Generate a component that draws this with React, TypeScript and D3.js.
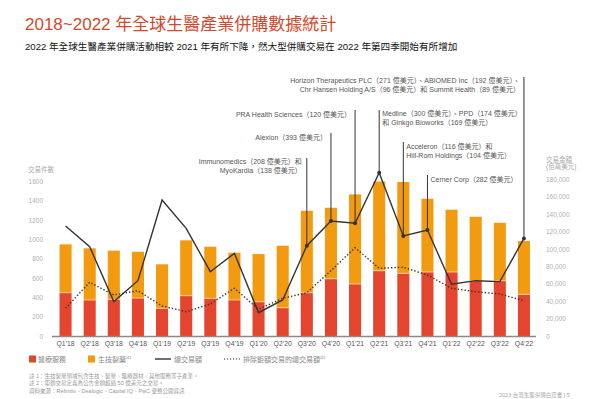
import React from 'react';
import * as d3 from 'd3';

const quarters = [
  "Q1’18", "Q2’18", "Q3’18", "Q4’18", "Q1’19", "Q2’19", "Q3’19", "Q4’19", "Q1’20", "Q2’20",
  "Q3’20", "Q4’20", "Q1’21", "Q2’21", "Q3’21", "Q4’21", "Q1’22", "Q2’22", "Q3’22", "Q4’22",
];
// deal counts (left axis)
const healthcare = [452, 377, 384, 397, 291, 421, 394, 377, 359, 297, 452, 596, 542, 679, 652, 666, 666, 576, 576, 435];
const pharma = [499, 533, 502, 478, 454, 572, 533, 488, 492, 640, 846, 733, 925, 921, 943, 756, 643, 660, 598, 550];
// deal value, USD mn (right axis)
const totalValue = [126700, 103000, 40000, 64000, 156500, 124000, 74300, 95400, 27300, 41900,
  104100, 132500, 129800, 187800, 115300, 122100, 59900, 64000, 62900, 112400];
const exMegaValue = [32300, 62200, 47600, 52500, 35000, 28400, 37300, 55300, 31200, 43800,
  50200, 75500, 101800, 78200, 79400, 70500, 55300, 51400, 48700, 41000];

const leftTicks = [0, 200, 400, 600, 800, 1000, 1200, 1400, 1600];
const rightTicks = [0, 20000, 40000, 60000, 80000, 100000, 120000, 140000, 160000, 180000];

const annotationText = [
  { q: "Q3’20", lines: ["Immunomedics（208 億美元）和", "MyoKardia（138 億美元）"] },
  { q: "Q4’20", lines: ["Alexion（393 億美元）"] },
  { q: "Q1’21", lines: ["PRA Health Sciences（120 億美元）"] },
  { q: "Q2’21", lines: ["Medline（300 億美元）、PPD（174 億美元）", "和 Ginkgo Bioworks（169 億美元）"] },
  { q: "Q3’21", lines: ["Acceleron（116 億美元）和", "Hill-Rom Holdings（104 億美元）"] },
  { q: "Q4’21", lines: ["Cerner Corp（282 億美元）"] },
  { q: "Q4’22", lines: ["Horizon Therapeutics PLC（271 億美元）、ABIOMED Inc（192 億美元）、", "Chr Hansen Holding A/S（96 億美元）和 Summit Health（89 億美元）"] },
];

// label placement for each annotation above (same order)
const annotationLayout = [
  { anchor: "end", dx: -5, top: 158, base: 164 },
  { anchor: "end", dx: -4, top: 133, base: 140 },
  { anchor: "end", dx: -4, top: 110, base: 116.5 },
  { anchor: "start", dx: 3, top: 110, base: 116 },
  { anchor: "start", dx: 3, top: 142, base: 148.5 },
  { anchor: "start", dx: 3, top: 175, base: 181.5 },
  { anchor: "end", dx: -4, top: 77, base: 83 },
];

const RED = "#e4452e";
const ORANGE = "#f29a10";
const DARK = "#333333";
const FONT = "'Liberation Sans', 'Noto Sans CJK TC', sans-serif";

export default function App() {
  const x = d3.scaleBand().domain(quarters).range([53.5, 536]).paddingInner(0.5).paddingOuter(0.25);
  const yL = d3.scaleLinear().domain([0, 1600]).range([336.5, 181.5]);
  const yR = d3.scaleLinear().domain([0, 180000]).range([336.5, 179.5]);
  const cx = (q: string) => (x(q) as number) + x.bandwidth() / 2;

  const line = d3.line<number>().x((_, i) => cx(quarters[i])).y(d => yR(d));

  return (
    <svg width={600} height={399} style={{ position: "absolute", left: 0, top: 0, fontFamily: FONT }}>
      <rect width={600} height={399} fill="#fff" />
      <text x={25} y={30} fontSize={17} fill="#d1492c">2018~2022 年全球生醫產業併購數據統計</text>
      <text x={25} y={50} fontSize={9.6} fill="#111">
        2022 年全球生醫產業併購活動相較 2021 年有所下降，然大型併購交易在 2022 年第四季開始有所增加
      </text>

      {/* left axis */}
      <text x={28} y={172} fontSize={6.5} fill="#aaa">交易件數</text>
      {leftTicks.map(t => (
        <text key={t} x={43} y={yL(t) + 2.3} fontSize={6.5} fill="#b0b0b0" textAnchor="end">{t}</text>
      ))}
      {/* right axis */}
      <text x={546} y={161.5} fontSize={6.5} fill="#aaa">交易金額</text>
      <text x={546} y={169} fontSize={6.5} fill="#aaa">(佰萬美元)</text>
      {rightTicks.map(t => (
        <text key={t} x={546} y={yR(t) + 2.3} fontSize={6.5} fill="#b0b0b0">{d3.format(",")(t)}</text>
      ))}

      {/* bars */}
      {quarters.map((q, i) => {
        const bx = x(q) as number;
        const h0 = yL(healthcare[i]);
        const h1 = yL(healthcare[i] + pharma[i]);
        return (
          <g key={q}>
            <rect x={bx} y={h1} width={x.bandwidth()} height={h0 - h1} fill={ORANGE} />
            <rect x={bx} y={h0} width={x.bandwidth()} height={yL(0) - h0} fill={RED} />
            <line x1={bx} x2={bx + x.bandwidth()} y1={h0} y2={h0} stroke="#fbe2b5" strokeWidth={0.8} />
          </g>
        );
      })}
      <line x1={52} x2={536} y1={336.5} y2={336.5} stroke="#8a8a8a" strokeWidth={1.5} />
      {quarters.map(q => (
        <text key={q} x={cx(q)} y={346} fontSize={6.8} fill="#555" textAnchor="middle">{q}</text>
      ))}

      {/* lines */}
      <path d={line(exMegaValue) || ""} fill="none" stroke={DARK} strokeWidth={1.4} strokeDasharray="1.4,2" />
      <path d={line(totalValue) || ""} fill="none" stroke={DARK} strokeWidth={1.4} />

      {/* annotations */}
      {annotationText.map((a, k) => {
        const i = quarters.indexOf(a.q);
        const px = cx(a.q);
        const py = yR(totalValue[i]);
        const lay = annotationLayout[k];
        return (
          <g key={a.q}>
            <line x1={px} x2={px} y1={lay.top} y2={py} stroke={DARK} strokeWidth={1} />
            <circle cx={px} cy={py} r={2} fill={DARK} />
            {a.lines.map((s, j) => (
              <text key={j} x={px + lay.dx} y={lay.base + j * 9.3} fontSize={7} fill="#555" textAnchor={lay.anchor as any}>{s}</text>
            ))}
          </g>
        );
      })}

      {/* legend */}
      <rect x={29} y={355.5} width={7} height={7} fill={RED} />
      <text x={38} y={362} fontSize={7} fill="#888">醫療服務</text>
      <rect x={88} y={355.5} width={7} height={7} fill={ORANGE} />
      <text x={98} y={362} fontSize={7} fill="#888">生技製藥<tspan fontSize={3.5} dy={-3}>註1</tspan></text>
      <line x1={155} x2={171} y1={359} y2={359} stroke={DARK} strokeWidth={1.4} />
      <text x={174} y={362} fontSize={7} fill="#888">總交易額</text>
      <line x1={224} x2={240} y1={359} y2={359} stroke={DARK} strokeWidth={1.2} strokeDasharray="1.2,1.8" />
      <text x={243} y={362} fontSize={7} fill="#888">排除鉅額交易的總交易額<tspan fontSize={3.5} dy={-3}>註2</tspan></text>

      {/* notes */}
      <text x={29} y={378} fontSize={5.5} fill="#999">註 1：生技製藥領域包含生技、製藥、醫療器材、其他服務等子產業。</text>
      <text x={29} y={385} fontSize={5.5} fill="#999">註 2：鉅額交易定義為公告金額超過 50 億美元之交易。</text>
      <text x={29} y={393} fontSize={5.5} fill="#999">資料來源：Refinitiv、Dealogic、Capital IQ、PwC 彙整公開資訊</text>
      <text x={499} y={397} fontSize={5.5} fill="#aaa">2023 台灣生醫併購白皮書 | 5</text>
    </svg>
  );
}
